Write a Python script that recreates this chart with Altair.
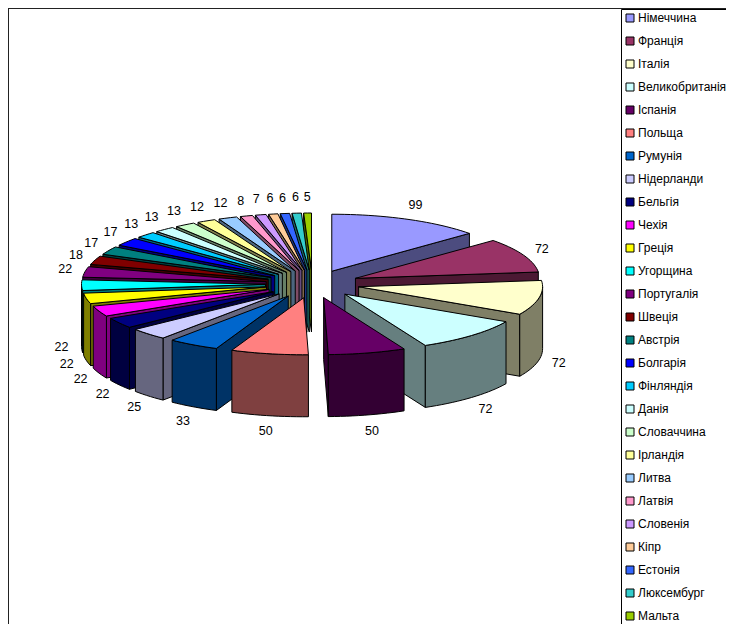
import math
import altair as alt
import pandas as pd

countries = ["Німеччина", "Франція", "Італія", "Великобританія", "Іспанія", "Польща", "Румунія",
             "Нідерланди", "Бельгія", "Чехія", "Греція", "Угорщина", "Португалія", "Швеція",
             "Австрія", "Болгарія", "Фінляндія", "Данія", "Словаччина", "Ірландія", "Литва",
             "Латвія", "Словенія", "Кіпр", "Естонія", "Люксембург", "Мальта"]
values = [99, 72, 72, 72, 50, 50, 33, 25, 22, 22, 22, 22, 22, 18, 17, 17, 13, 13, 13, 12, 12, 8, 7, 6, 6, 6, 5]
colors = ["#9999FF", "#993366", "#FFFFCC", "#CCFFFF", "#660066", "#FF8080", "#0066CC", "#CCCCFF",
          "#000080", "#FF00FF", "#FFFF00", "#00FFFF", "#800080", "#800000", "#008080", "#0000FF",
          "#00CCFF", "#CCFFFF", "#CCFFCC", "#FFFF99", "#99CCFF", "#FF99CC", "#CC99FF", "#FFCC99",
          "#3366FF", "#33CCCC", "#99CC00"]

# Pie projection, in picture units
CX, CY = 312.5, 284.0
RX, RY = 184.0, 57.0
EX, EY = 47.0, 14.0
DEPTH = 62.0
W, H = 718, 616


def half(c):
    return "#" + "".join(f"{int(c[i:i + 2], 16) // 2:02X}" for i in (1, 3, 5))


side_colors = [half(c) for c in colors]
total = sum(values)
spans = []
acc = 0
for v in values:
    spans.append((acc / total * 360, (acc + v) / total * 360))
    acc += v


def rim(ax, ay, deg):
    r = math.radians(deg)
    return ax + RX * math.sin(r), ay - RY * math.cos(r)


def arc(a0, a1):
    n = max(2, int((a1 - a0) / 2) + 1)
    return [a0 + (a1 - a0) * k / n for k in range(n + 1)]


rows = []
labels = []
order = sorted(range(len(values)), key=lambda k: -math.cos(math.radians(sum(spans[k]) / 2)))
face_id = 0


def add(points, key):
    global face_id
    pts = points + [points[0]]
    for n, (x, y) in enumerate(pts):
        rows.append({"face": f"f{face_id:03d}", "n": face_id * 1000 + n, "x": x, "y": y, "key": key})
    face_id += 1


for k in order:
    a0, a1 = spans[k]
    mid = (a0 + a1) / 2
    mr = math.radians(mid)
    ax = CX + EX * math.sin(mr)
    ay = CY - EY * math.cos(mr)
    side = countries[k] + " (бік)"
    if math.sin(math.radians(a0)) < 0:
        p = rim(ax, ay, a0)
        add([(ax, ay), p, (p[0], p[1] + DEPTH), (ax, ay + DEPTH)], side)
    if math.sin(math.radians(a1)) > 0:
        p = rim(ax, ay, a1)
        add([(ax, ay), p, (p[0], p[1] + DEPTH), (ax, ay + DEPTH)], side)
    w0, w1 = max(a0, 90), min(a1, 270)
    if w1 > w0:
        top = [rim(ax, ay, d) for d in arc(w0, w1)]
        add(top + [(x, y + DEPTH) for x, y in reversed(top)], side)
    add([(ax, ay)] + [rim(ax, ay, d) for d in arc(a0, a1)], countries[k])
    lx, ly = rim(ax, ay, mid)
    if math.cos(mr) < 0:
        ly += DEPTH
    labels.append({"x": lx + 20 * math.sin(mr), "y": ly - 16 * math.cos(mr), "value": values[k]})

faces = pd.DataFrame(rows)
labels_df = pd.DataFrame(labels)

x_scale = alt.Scale(domain=[8, 8 + W], range=[0, W], nice=False, zero=False)
y_scale = alt.Scale(domain=[8, 8 + H], range=[0, H], nice=False, zero=False)
fill_scale = alt.Scale(domain=countries + [c + " (бік)" for c in countries], range=colors + side_colors)

pie = alt.Chart(faces).mark_line(stroke="black", strokeWidth=1, strokeJoin="round", interpolate="linear").encode(
    x=alt.X("x:Q", scale=x_scale, axis=None),
    y=alt.Y("y:Q", scale=y_scale, axis=None),
    detail="face:N",
    order="n:Q",
    fill=alt.Fill("key:N", scale=fill_scale, legend=alt.Legend(
        values=countries, title=None, orient="none", legendX=613, legendY=1,
        symbolType="square", symbolSize=64, symbolStrokeColor="black", symbolStrokeWidth=1,
        symbolOpacity=1, labelFont="Liberation Sans", labelFontSize=12, labelColor="black",
        labelOffset=2, rowPadding=11, padding=3, strokeColor="black", labelLimit=120,
        columns=1)),
)

text = alt.Chart(labels_df).mark_text(font="Liberation Sans", fontSize=12.5, color="black").encode(
    x=alt.X("x:Q", scale=x_scale, axis=None),
    y=alt.Y("y:Q", scale=y_scale, axis=None),
    text="value:Q",
)

frame = pd.DataFrame({"edge": ["frame"]})
left = alt.Chart(frame).mark_rule(color="#222222", strokeWidth=2).encode(
    x=alt.value(0), y=alt.value(0), y2=alt.value(H))
top = alt.Chart(frame).mark_rule(color="#222222", strokeWidth=2).encode(
    y=alt.value(0), x=alt.value(0), x2=alt.value(W))

chart = alt.layer(left, top, pie, text).properties(
    width=W, height=H, padding=0, autosize=alt.AutoSizeParams(type="none")
).configure_view(stroke=None).resolve_scale(x="shared", y="shared")

chart.save("out.html", embed_options={"renderer": "svg", "actions": False})
